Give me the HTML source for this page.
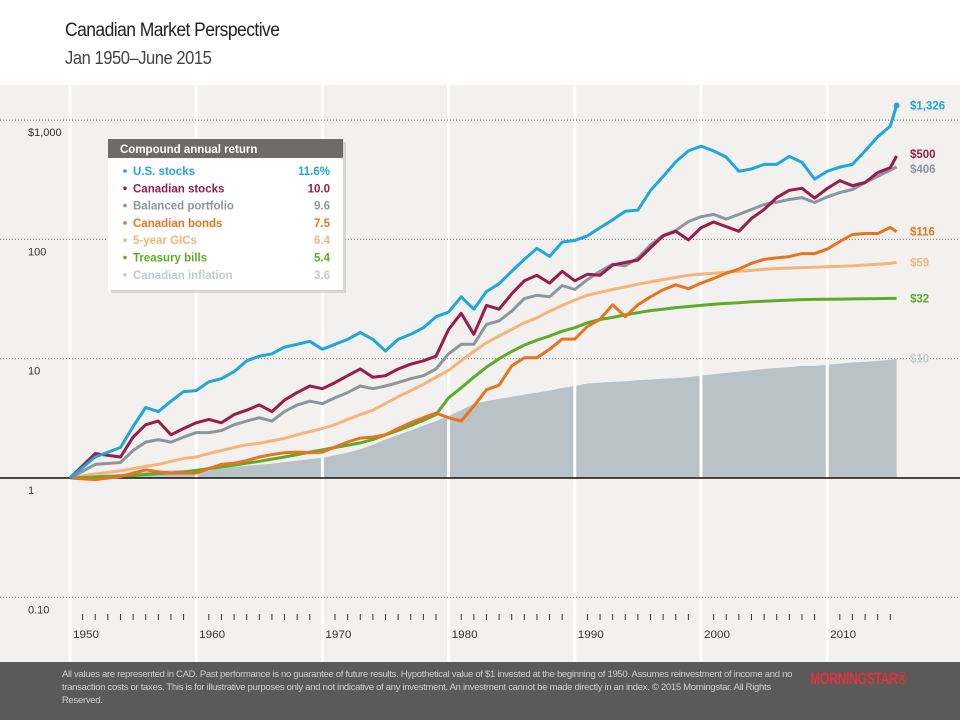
<!DOCTYPE html>
<html><head><meta charset="utf-8"><style>
html,body{margin:0;padding:0;width:960px;height:720px;overflow:hidden;background:#fff;font-family:"Liberation Sans",sans-serif}
#title{position:absolute;left:65px;top:20px;font-size:19px;color:#222;letter-spacing:-0.6px;transform:scaleX(0.92);transform-origin:left}
#sub{position:absolute;left:65px;top:48px;font-size:18px;color:#444;letter-spacing:-0.5px;transform:scaleX(0.92);transform-origin:left}
#footer{position:absolute;left:0;top:662px;width:960px;height:58px;background:#5a5a5b}
#ftext{position:absolute;left:62px;top:6px;width:740px;font-size:9.5px;line-height:13px;color:#cfcfcf;letter-spacing:-0.3px}
#logo{position:absolute;left:810px;top:7px;font-size:17px;font-weight:bold;color:#e0323c;letter-spacing:-0.5px;transform:scaleX(0.72);transform-origin:left}
</style></head><body>
<div id="title">Canadian Market Perspective</div>
<div id="sub">Jan 1950–June 2015</div>
<svg id="chart" width="960" height="720" style="position:absolute;left:0;top:0"></svg>
<div id="footer">
<div id="ftext">All values are represented in CAD. Past performance is no guarantee of future results. Hypothetical value of $1 invested at the beginning of 1950. Assumes reinvestment of income and no transaction costs or taxes. This is for illustrative purposes only and not indicative of any investment. An investment cannot be made directly in an index. © 2015 Morningstar. All Rights Reserved.</div>
<div id="logo">MORNINGSTAR®</div>
</div>
<script>
const years=[1950,1952,1954,1955,1956,1957,1958,1959,1960,1961,1962,1963,1964,1965,1966,1967,1968,1969,1970,1971,1972,1973,1974,1975,1976,1977,1978,1979,1980,1981,1982,1983,1984,1985,1986,1987,1988,1989,1990,1991,1992,1993,1994,1995,1996,1997,1998,1999,2000,2001,2002,2003,2004,2005,2006,2007,2008,2009,2010,2011,2012,2013,2014,2015,2015.5];
const usStocks=[1,1.5,1.8,2.7,3.9,3.6,4.4,5.3,5.4,6.4,6.8,7.8,9.6,10.5,11,12.5,13.2,14,12,13.2,14.5,16.6,14.5,11.6,14.5,16,18.2,22.5,24.6,33,26,36.6,42.5,54,68,84,72,95,98,107,125,146,172,176,257,337,447,552,606,552,490,372,390,425,425,496,443,320,372,404,425,552,725,890,1326];
const cdnStocks=[1,1.6,1.5,2.2,2.8,3,2.3,2.6,2.9,3.1,2.9,3.4,3.7,4.1,3.6,4.5,5.2,5.9,5.6,6.3,7.2,8.2,7,7.2,8.2,9,9.6,10.5,17.6,24,16,28,26,35,45,50,43,54,45,51,50,61,64,67,85,107,117,99,125,140,128,117,150,178,224,258,268,222,267,311,282,300,363,400,500];
const balanced=[1,1.3,1.35,1.7,2,2.1,2,2.2,2.4,2.4,2.5,2.8,3,3.2,3,3.6,4.1,4.4,4.2,4.7,5.2,5.9,5.6,5.9,6.3,6.8,7.2,8.2,11,13.2,13.2,19.4,20.8,25,31.9,34,33,41,38,46,54,62,60,70,90,108,119,141,155,162,148,162,178,196,205,216,224,204,227,247,262,300,338,380,406];
const cdnBonds=[1,0.97,1.03,1.1,1.17,1.13,1.1,1.1,1.1,1.2,1.3,1.33,1.4,1.5,1.57,1.63,1.65,1.63,1.65,1.82,2,2.16,2.2,2.3,2.6,2.9,3.2,3.5,3.2,3,4,5.5,6,8.7,10.2,10.2,12,14.6,14.6,18.6,21.4,28.3,22.5,28.3,33,37.8,41.6,38.6,43,47,52,56.5,63,68,70,71.8,76,76,83,96,110,112,112,126,116];
const gics=[1,1.08,1.15,1.2,1.25,1.3,1.38,1.46,1.5,1.6,1.7,1.8,1.9,1.95,2.05,2.15,2.3,2.45,2.6,2.8,3.1,3.4,3.7,4.2,4.8,5.4,6.1,7,8,9.6,11.5,13.6,15.5,17.6,20,22,25,28,31,34,36,38,40,42,44,46,48,50,51,52,53,54,55,56,57,57.5,58,58.5,59,59.5,60,61,62,63,64];
const tbills=[1,1.02,1.04,1.05,1.07,1.09,1.1,1.12,1.16,1.2,1.24,1.28,1.33,1.38,1.44,1.5,1.57,1.65,1.72,1.8,1.88,1.97,2.1,2.3,2.5,2.75,3.05,3.4,4.7,5.7,7,8.5,10,11.5,13,14.3,15.5,17,18.2,20,21.3,22.2,23.3,24.3,25.3,26,26.8,27.4,28,28.6,29.1,29.5,30,30.3,30.7,31,31.3,31.4,31.5,31.6,31.7,31.8,31.9,32,32];
const inflation=[1,1.06,1.08,1.1,1.12,1.13,1.16,1.17,1.18,1.2,1.22,1.24,1.27,1.29,1.32,1.36,1.4,1.44,1.48,1.55,1.63,1.74,1.9,2.1,2.3,2.5,2.75,3,3.3,3.7,4.2,4.4,4.6,4.8,5,5.2,5.4,5.7,5.9,6.2,6.3,6.4,6.45,6.6,6.7,6.8,6.85,7,7.2,7.4,7.6,7.8,8,8.2,8.35,8.5,8.7,8.7,8.9,9.1,9.3,9.4,9.6,9.75,10];
const yTicks=[1000,100,10,1,0.1];
const yTickLabels=["$1,000","100","10","1","0.10"];
const decades=[1950,1960,1970,1980,1990,2000,2010];
const seriesNames=["U.S. stocks","Canadian stocks","Balanced portfolio","Canadian bonds","5-year GICs","Treasury bills","Canadian inflation"];
const seriesReturns=["11.6%","10.0","9.6","7.5","6.4","5.4","3.6"];
const endLabels=["$1,326","$500","$406","$116","$59","$32","$10"];

const NS="http://www.w3.org/2000/svg";
const svg=document.getElementById('chart');
const xS=y=>70+(y-1950)*12.62;
const yS=v=>478-Math.log10(v)*119.3;
function mk(tag,attrs,parent){const e=document.createElementNS(NS,tag);for(const k in attrs)e.setAttribute(k,attrs[k]);(parent||svg).appendChild(e);return e;}

const bg=mk('rect',{x:0,y:85,width:960,height:577,fill:'#f3f1ef'});



let d='M'+xS(years[0])+','+yS(1);
years.forEach((y,i)=>{d+=' L'+xS(y)+','+yS(inflation[i]);});
d+=' L'+xS(years[years.length-1])+','+yS(1)+' Z';
const area=mk('path',{d:d,fill:'#b8c2c7'});



decades.forEach(dy=>{
  const g=mk('line',{x1:xS(dy),x2:xS(dy),y1:85,y2:662,stroke:'#ffffff','stroke-width':3});
  
  
  const t=mk('text',{x:xS(dy)+3,y:638,'font-size':11,fill:'#333','font-family':'Liberation Sans, sans-serif',textLength:26,lengthAdjust:'spacingAndGlyphs'});
  t.textContent=String(dy);
  
  
  for(let k=1;k<10;k++){
    const yr=dy+k; if(yr>2015) break;
    const tk=mk('line',{x1:xS(yr),x2:xS(yr),y1:614,y2:620,stroke:'#333','stroke-width':1});
    
    
  }
});
yTicks.forEach((v,i)=>{
  const y=yS(v);
  const l=mk('line',{x1:0,x2:960,y1:y,y2:y,stroke:v===1?'#111':'#888','stroke-width':v===1?1.5:1.2,'stroke-dasharray':v===1?'':'1,2'});
  
  
  const t=mk('text',{x:28,y:y+16,'font-size':11,fill:'#333','font-family':'Liberation Sans, sans-serif'});
  t.textContent=yTickLabels[i];
  
  
});

const series=[usStocks,cdnStocks,balanced,cdnBonds,gics,tbills];
const colors=['#1fa6db','#9b1b4b','#8d969c','#e8731f','#f5b47a','#5eab29','#c4cacd'];
const lineNames=['us-stocks-line','canadian-stocks-line','balanced-line','canadian-bonds-line','gics-line','tbills-line'];
const order=[4,5,3,2,1,0];
order.forEach(si=>{
  const vals=series[si];
  let p='';
  years.forEach((y,i)=>{p+=(i?' L':'M')+xS(y).toFixed(1)+','+yS(vals[i]).toFixed(1);});
  const ln=mk('path',{d:p,fill:'none',stroke:colors[si],'stroke-width':3,'stroke-linejoin':'round'});
  
  
});
const allS=[usStocks,cdnStocks,balanced,cdnBonds,gics,tbills,inflation];
const offs=[0,-2,2,0,0,0,0];
allS.forEach((vals,i)=>{
  const v=vals[vals.length-1];
  const t=mk('text',{x:910,y:yS(v)+4+offs[i],'font-size':11.5,'font-weight':'bold',fill:colors[i],'font-family':'Liberation Sans, sans-serif'});
  t.textContent=endLabels[i];
  
  
});
const dot=mk('circle',{cx:xS(2015.5),cy:yS(usStocks[usStocks.length-1]),r:3,fill:colors[0]});



const lg=mk('g',{});


mk('rect',{x:111,y:142,width:235,height:151,fill:'#bbb',opacity:0.5},lg);
mk('rect',{x:108,y:139,width:235,height:151,fill:'#ffffff'},lg);
mk('rect',{x:108,y:139,width:235,height:19,fill:'#6d6c69'},lg);
const ht=mk('text',{x:120,y:153,'font-size':11.5,'font-weight':'bold',fill:'#fff','font-family':'Liberation Sans, sans-serif'},lg);
ht.textContent='Compound annual return';


seriesNames.forEach((n,i)=>{
  const y=175+i*17.3;
  const c=colors[i];
  mk('circle',{cx:125,cy:y-4,r:1.8,fill:c},lg);
  const t=mk('text',{x:133,y:y,'font-size':11.5,'font-weight':'bold',fill:c,'font-family':'Liberation Sans, sans-serif'},lg);
  t.textContent=n;
  
  
  const r=mk('text',{x:330,y:y,'font-size':11.5,'font-weight':'bold',fill:c,'text-anchor':'end','font-family':'Liberation Sans, sans-serif'},lg);
  r.textContent=seriesReturns[i];
  
  
});
</script>
</body></html>
